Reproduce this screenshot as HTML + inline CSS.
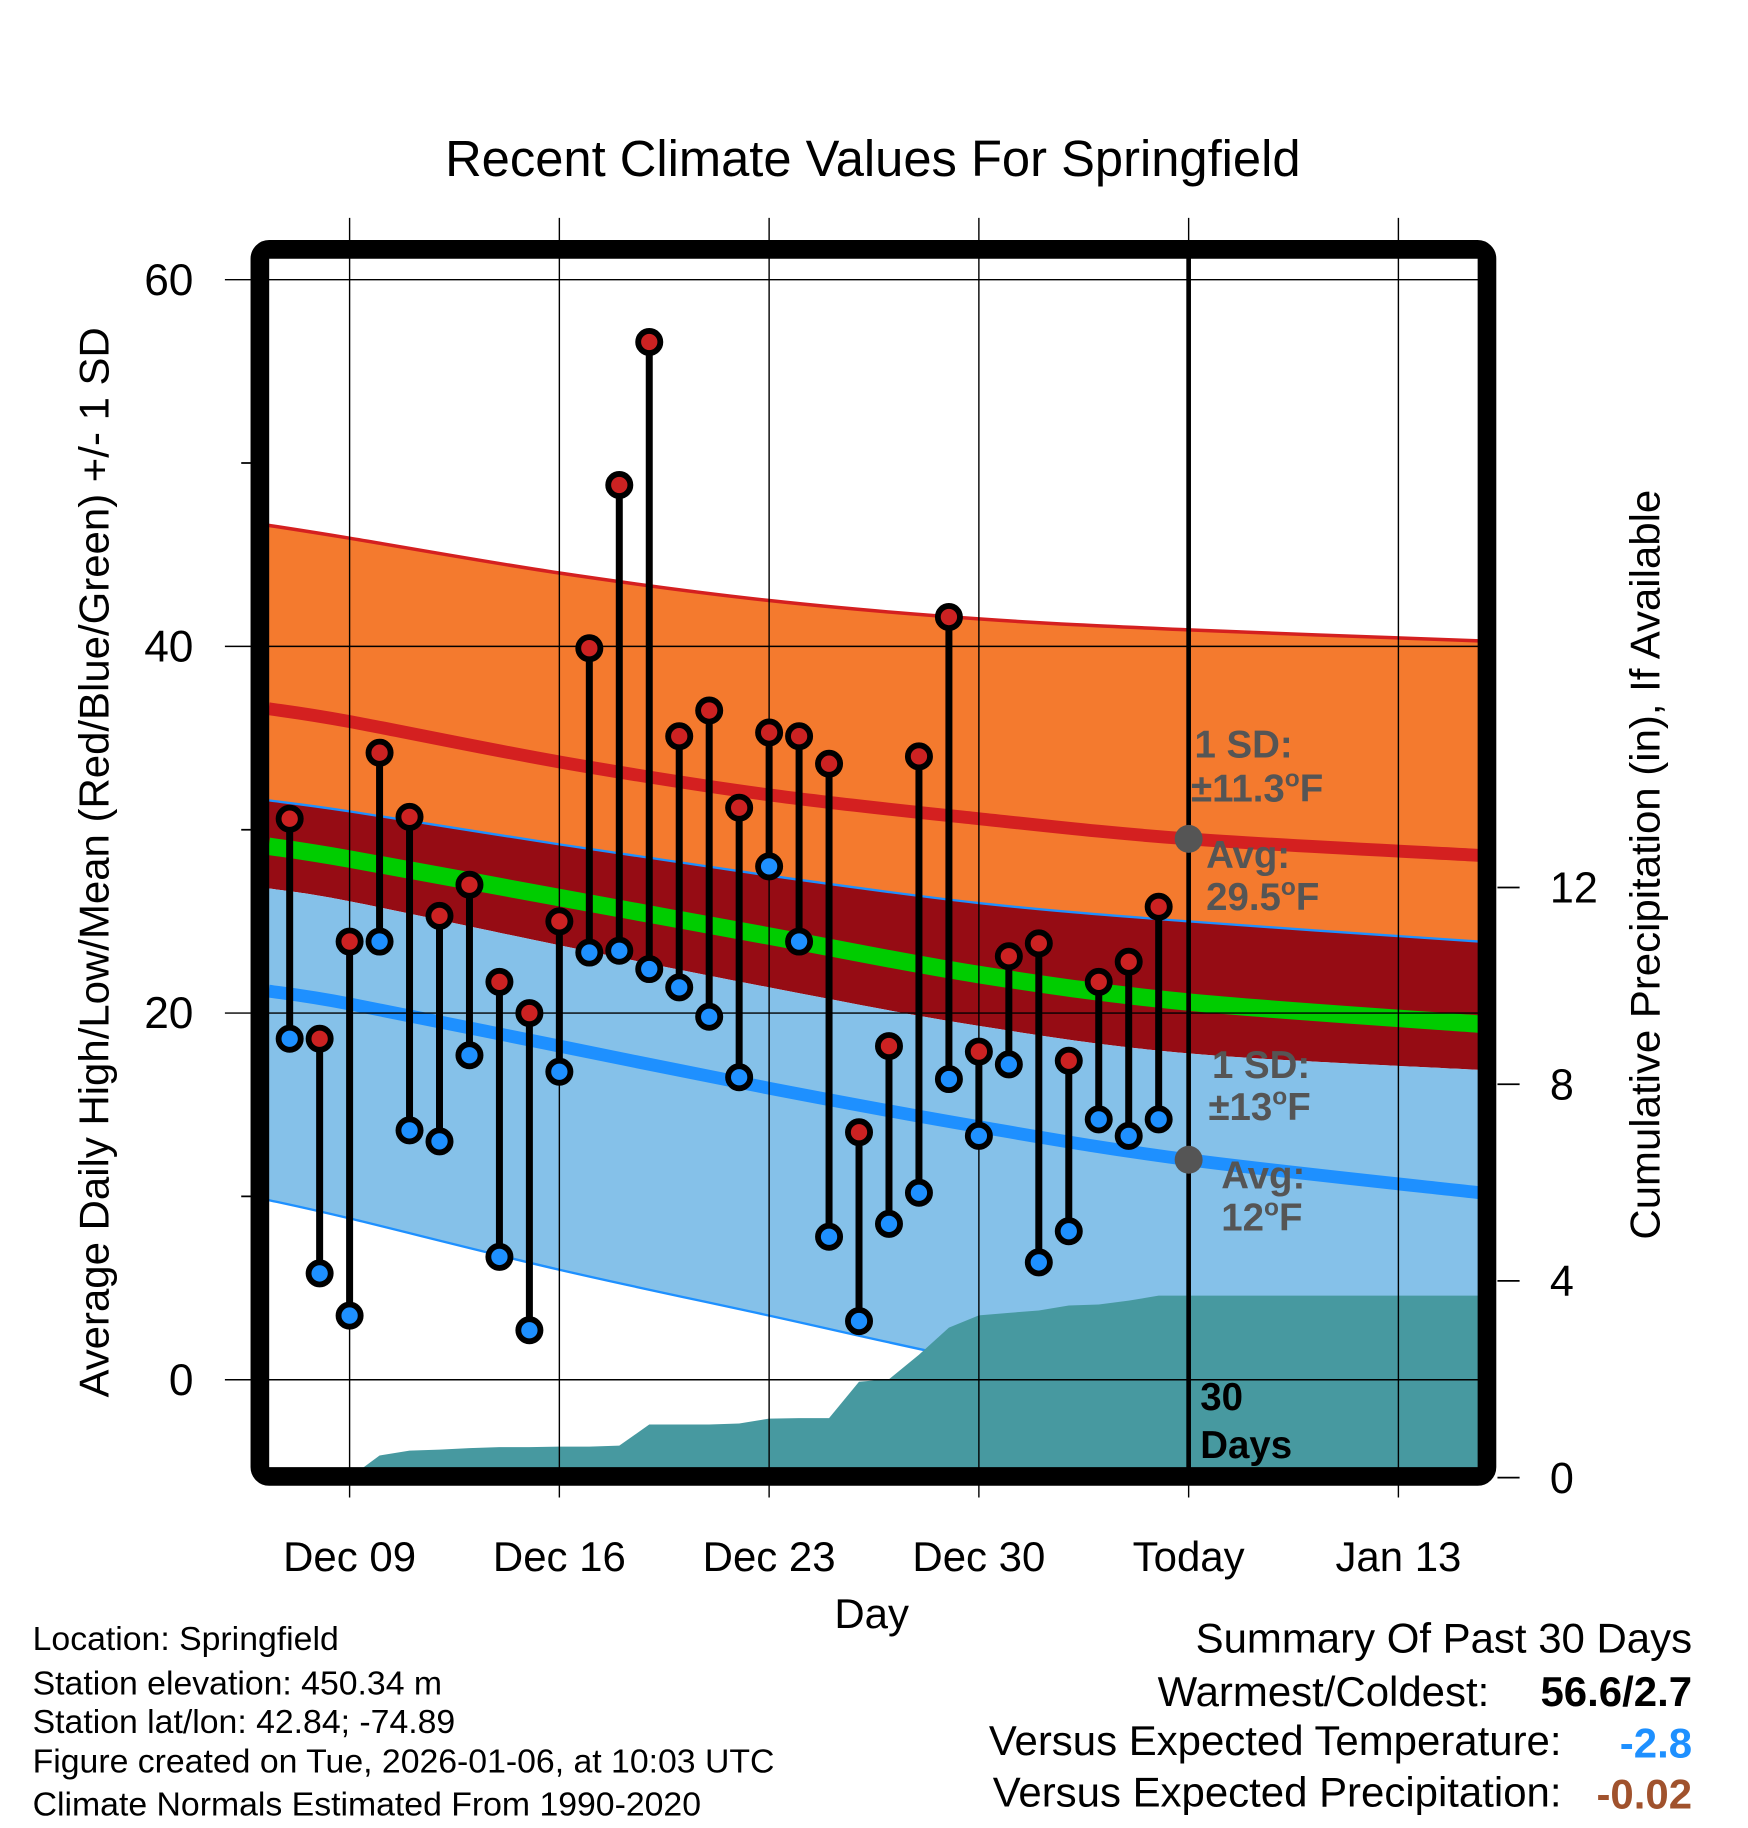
<!DOCTYPE html>
<html><head><meta charset="utf-8"><style>
html,body{margin:0;padding:0;background:#fff;}
svg{display:block;font-family:"Liberation Sans",Arial,sans-serif;}
</style></head><body>
<svg id="chart" width="1748" height="1828" viewBox="0 0 1500 1568.65" xmlns="http://www.w3.org/2000/svg">
<defs><clipPath id="plotclip"><rect x="223" y="214" width="1053" height="1053"/></clipPath></defs>
<text x="749" y="151" font-size="43.5" text-anchor="middle">Recent Climate Values For Springfield</text>
<g id="bands" clip-path="url(#plotclip)"></g>
<g id="grid"></g>
<g id="marks" clip-path="url(#plotclip)"></g>
<g id="annot"></g>
<rect x="223" y="214" width="1053" height="1053" rx="8" fill="none" stroke="#000" stroke-width="16"/>
<text x="748" y="1397" font-size="36" text-anchor="middle">Day</text>
<text transform="translate(93,740) rotate(-90)" font-size="36" text-anchor="middle">Average Daily High/Low/Mean (Red/Blue/Green) +/- 1 SD</text>
<text transform="translate(1424,742) rotate(-90)" font-size="36" text-anchor="middle">Cumulative Precipitation (in), If Available</text>
<g font-size="29">
<text x="28" y="1416">Location: Springfield</text>
<text x="28" y="1454">Station elevation: 450.34 m</text>
<text x="28" y="1487">Station lat/lon: 42.84; -74.89</text>
<text x="28" y="1521">Figure created on Tue, 2026-01-06, at 10:03 UTC</text>
<text x="28" y="1558">Climate Normals Estimated From 1990-2020</text>
</g>
<g font-size="36" text-anchor="end">
<text x="1452" y="1418">Summary Of Past 30 Days</text>
<text x="1278" y="1464">Warmest/Coldest:</text>
<text x="1452" y="1464" font-weight="bold">56.6/2.7</text>
<text x="1340" y="1506">Versus Expected Temperature:</text>
<text x="1452" y="1508" font-weight="bold" fill="#1e90ff">-2.8</text>
<text x="1340" y="1550">Versus Expected Precipitation:</text>
<text x="1452" y="1552" font-weight="bold" fill="#a0522d">-0.02</text>
</g>
</svg>
<script>
// data
const highs = [30.6,18.6,23.9,34.2,30.7,25.3,27.0,21.7,20.0,25.0,39.9,48.8,56.6,35.1,36.5,31.2,35.3,35.1,33.6,13.5,18.2,34.0,41.6,17.9,23.1,23.8,17.4,21.7,22.8,25.8];
const lows = [18.6,5.8,3.5,23.9,13.6,13.0,17.7,6.7,2.7,16.8,23.3,23.4,22.4,21.4,19.8,16.5,28.0,23.9,7.8,3.2,8.5,10.2,16.4,13.3,17.2,6.4,8.1,14.2,13.3,14.2];
const precip = [0,0,0,0.45,0.55,0.57,0.6,0.62,0.62,0.63,0.63,0.65,1.08,1.08,1.08,1.1,1.2,1.21,1.21,1.95,2.0,2.5,3.05,3.3,3.35,3.4,3.5,3.52,3.6,3.7];
const normDays = [-2.7,0,7,14,21,28,37.7];
const highPlus = [46.6,45.9,44.0,42.5,41.5,40.9,40.3];
const highMean = [36.6,35.9,33.7,31.9,30.6,29.5,28.6];
const highMinus = [31.6,31.0,29.2,27.5,26.0,25.0,23.9];
const meanLine = [29.1,28.4,26.3,24.2,22.1,20.6,19.4];
const lowPlus = [26.8,26.1,23.7,21.4,19.3,17.8,16.9];
const lowMean = [21.2,20.5,18.2,15.9,13.8,12.0,10.2];
const lowMinus = [9.8,8.8,6.0,3.5,1.0,-1.0,-3.0];
const xTickLabels = ["Dec 09","Dec 16","Dec 23","Dec 30","Today","Jan 13"];
const yTicks = [0,20,40,60];
const y2Ticks = [0,4,8,12];
const firstDay = -2; // Dec 07 relative to Dec 09

const NS="http://www.w3.org/2000/svg";
const X = d => 300 + d*180/7;
const Y = v => 1184 - (v)*(944/60);
const Y2 = p => 1268 - p*42.2;
function mk(tag, attrs, parent){const e=document.createElementNS(NS,tag);for(const k in attrs)e.setAttribute(k,attrs[k]);parent.appendChild(e);return e;}
const bands=document.getElementById('bands'), grid=document.getElementById('grid'), marks=document.getElementById('marks'), annot=document.getElementById('annot');
function smooth(arr, reverse){
  let p=normDays.map((d,i)=>[X(d),Y(arr[i])]);
  if(reverse)p=p.reverse();
  let s='';
  for(let i=0;i<p.length-1;i++){
    const p0=p[Math.max(0,i-1)],p1=p[i],p2=p[i+1],p3=p[Math.min(p.length-1,i+2)];
    const c1=[p1[0]+(p2[0]-p0[0])/6,p1[1]+(p2[1]-p0[1])/6];
    const c2=[p2[0]-(p3[0]-p1[0])/6,p2[1]-(p3[1]-p1[1])/6];
    s+=' C'+c1.join(',')+' '+c2.join(',')+' '+p2.join(',');
  }
  return {start:p[0],segs:s};
}
function band(top,bot,fill,name){
  const a=smooth(top,false),b=smooth(bot,true);
  const d='M'+a.start.join(',')+a.segs+' L'+b.start.join(',')+b.segs+' Z';
  const e=mk('path',{d:d,fill:fill},bands);
  
  
}
function line(arr,color,w,name){
  const a=smooth(arr,false);
  const e=mk('path',{d:'M'+a.start.join(',')+a.segs,fill:'none',stroke:color,'stroke-width':w},bands);
  
  
}
band(highPlus,highMinus,'#f47a2e','high-sd-band');
band(highMinus,lowPlus,'#960c14','overlap-band');
band(lowPlus,lowMinus,'#85c1e9','low-sd-band');
line(highPlus,'#d42020',3,'high-plus-sd-line');
line(highMinus,'#1e90ff',2,'high-minus-sd-line');
line(lowMinus,'#1e90ff',2,'low-minus-sd-line');
line(highMean,'#d42020',11,'normal-high-line');
line(meanLine,'#00cc00',15,'normal-mean-line');
line(lowMean,'#1e90ff',11,'normal-low-line');
// precip area
{
  let p=[X(firstDay)+','+1268];
  precip.forEach((v,i)=>p.push(X(firstDay+i)+','+Y2(v)));
  p.push('1280,'+Y2(precip[precip.length-1]));
  p.push('1280,1268');
  const e=mk('polygon',{points:p.join(' '),fill:'#4799a0'},bands);
  
  
}
// grid
xTickLabels.forEach((l,i)=>{
  const x=X(i*7);
  const g=mk('line',{x1:x,x2:x,y1:187,y2:1285,stroke:'#000','stroke-width':1.2},grid);
  
  
  const t=mk('text',{x:x,y:1348,'font-size':36,'text-anchor':'middle'},grid);
  t.textContent=l;
  
  
});
yTicks.forEach(v=>{
  const y=Y(v);
  const g=mk('line',{x1:193,x2:1276,y1:y,y2:y,stroke:'#000','stroke-width':1.2},grid);
  
  
  const t=mk('text',{x:166,y:y+13,'font-size':38,'text-anchor':'end'},grid);
  t.textContent=v;
  
  
});
[10,30,50].forEach(v=>{
  const m=mk('line',{x1:207,x2:223,y1:Y(v),y2:Y(v),stroke:'#000','stroke-width':1.5},grid);
  
  
});
y2Ticks.forEach(v=>{
  const y=Y2(v);
  const m=mk('line',{x1:1285,x2:1304,y1:y,y2:y,stroke:'#000','stroke-width':1.5},grid);
  
  
  const t=mk('text',{x:1330,y:y+13,'font-size':37},grid);
  t.textContent=v;
  
  
});
// today line
{
  const e=mk('line',{x1:X(28),x2:X(28),y1:214,y2:1267,stroke:'#000','stroke-width':4},marks);
  
  
}
// stems and points
highs.forEach((h,i)=>{
  const x=X(firstDay+i);
  const s=mk('line',{x1:x,x2:x,y1:Y(h),y2:Y(lows[i]),stroke:'#000','stroke-width':6},marks);
  
  
});
highs.forEach((h,i)=>{
  const x=X(firstDay+i);
  const a=mk('circle',{cx:x,cy:Y(h),r:9.5,fill:'#cc2222',stroke:'#000','stroke-width':5},marks);
  
  
  const b=mk('circle',{cx:x,cy:Y(lows[i]),r:9.5,fill:'#1e90ff',stroke:'#000','stroke-width':5},marks);
  
  
});
// annotations
function txt(s,x,y,fill,name,size){
  const t=mk('text',{x:x,y:y,'font-size':size||33,'font-weight':'bold',fill:fill},annot);
  t.innerHTML=s;
  
  
}
{
  const d1=mk('circle',{cx:X(28),cy:Y(highMean[5]),r:12,fill:'#555'},annot);
  
  
  const d2=mk('circle',{cx:X(28),cy:Y(lowMean[5]),r:12,fill:'#555'},annot);
  
  
}
const deg='<tspan dy="-13" font-size="21">o</tspan><tspan dy="13">F</tspan>';
txt('1 SD:',1025,650,'#555','high-sd-label');
txt('±11.3'+deg,1022,688,'#555','high-sd-value');
txt('Avg:',1035,745,'#555','high-avg-label');
txt('29.5'+deg,1035,781,'#555','high-avg-value');
txt('1 SD:',1040,925,'#555','low-sd-label');
txt('±13'+deg,1037,961,'#555','low-sd-value');
txt('Avg:',1048,1020,'#555','low-avg-label');
txt('12'+deg,1048,1056,'#555','low-avg-value');
txt('30',1030,1210,'#000','period-label');
txt('Days',1030,1251,'#000','period-label-days');
</script>
</body></html>
